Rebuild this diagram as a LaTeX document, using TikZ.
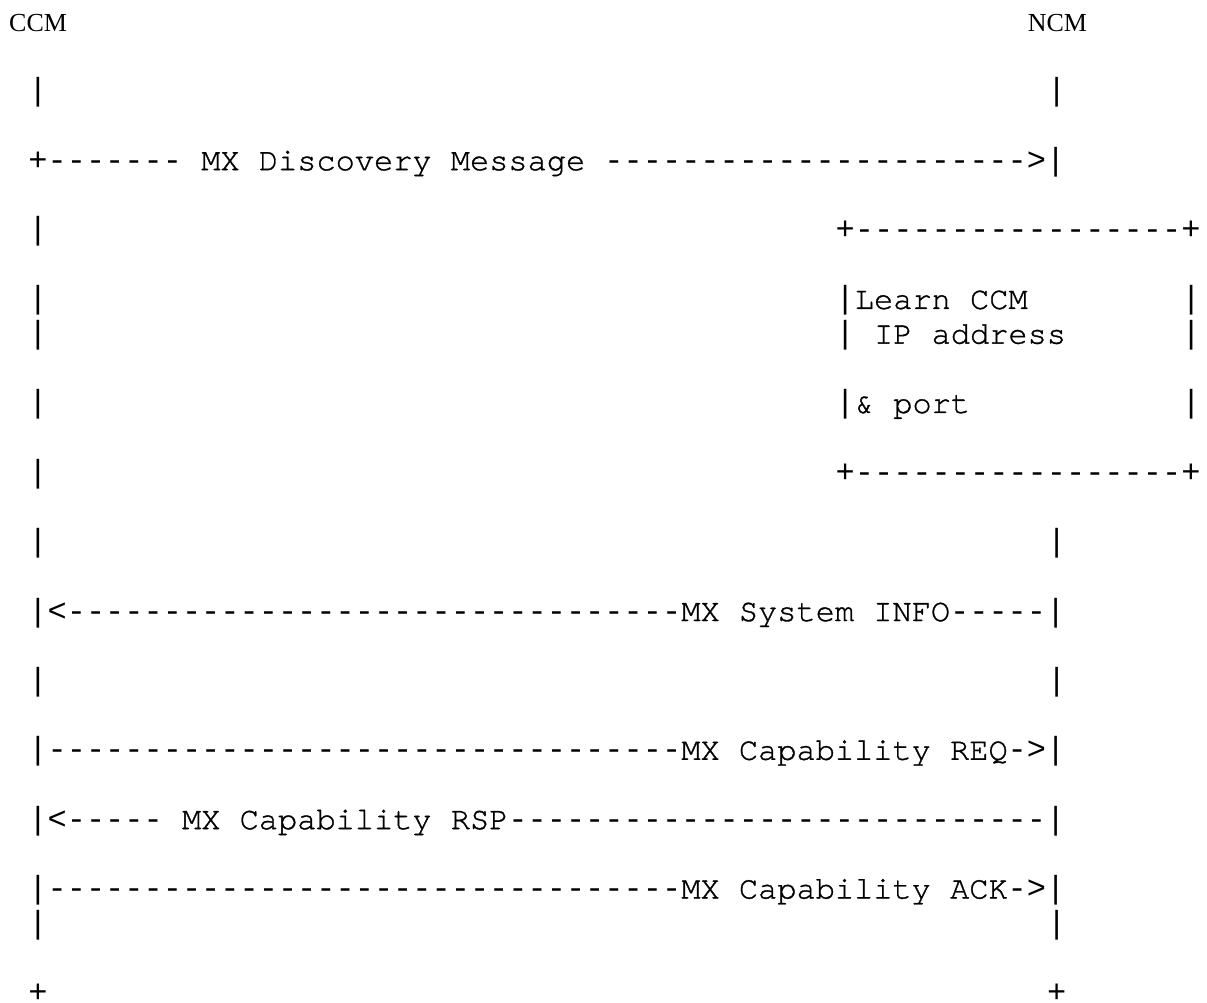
\documentclass[tikz,border=0pt]{standalone}
\usepackage{fontspec}
\setmainfont{Liberation Serif}
\setmonofont{Liberation Mono}
\newfontfamily\msgfont{TeX Gyre Cursor}[FakeBold=1]
\newcommand{\msg}[1]{{\msgfont #1}}

\tikzset{
    ascii/.style={anchor=base west, inner sep=0pt, outer sep=0pt, font=\fontsize{32}{34}\selectfont\ttfamily},
    party/.style={anchor=base west, inner sep=0pt, outer sep=0pt, font=\fontsize{26}{28}\selectfont\rmfamily}
}

\begin{document}
\begin{tikzpicture}
    \useasboundingbox (0,0) rectangle (1207pt,-1003pt);
    \begin{scope}[shift={(9.2pt,-31.5pt)}, x=19.22pt, y=-34.68pt]
    \node[party] (ccm) at (0,0) {CCM};
    \node[party] (ncm) at (53,0) {NCM};
    \node[ascii] (ccm2) at (1,2) {|};
    \node[ascii] (ncm2) at (54,2) {|};
    \node[ascii] (disc) at (1,4) {+------- \msg{MX Discovery Message} ---------------------->|};
    \node[ascii] (ccm6) at (1,6) {|};
    \node[ascii] (boxtop) at (43,6) {+-----------------+};
    \node[ascii] (ccm8) at (1,8) {|};
    \node[ascii] (learn) at (43,8) {|\msg{Learn CCM}};
    \node[ascii] (boxr8) at (61,8) {|};
    \node[ascii] (ccm9) at (1,9) {|};
    \node[ascii] (ipaddr) at (43,9) {| \msg{IP address}};
    \node[ascii] (boxr9) at (61,9) {|};
    \node[ascii] (ccm11) at (1,11) {|};
    \node[ascii] (port) at (43,11) {|\msg{\& port}};
    \node[ascii] (boxr11) at (61,11) {|};
    \node[ascii] (ccm13) at (1,13) {|};
    \node[ascii] (boxbot) at (43,13) {+-----------------+};
    \node[ascii] (ccm15) at (1,15) {|};
    \node[ascii] (ncm15) at (54,15) {|};
    \node[ascii] (sysinfo) at (1,17) {|<--------------------------------\msg{MX System INFO}-----|};
    \node[ascii] (ccm19) at (1,19) {|};
    \node[ascii] (ncm19) at (54,19) {|};
    \node[ascii] (capreq) at (1,21) {|---------------------------------\msg{MX Capability REQ}->|};
    \node[ascii] (caprsp) at (1,23) {|<----- \msg{MX Capability RSP}----------------------------|};
    \node[ascii] (capack) at (1,25) {|---------------------------------\msg{MX Capability ACK}->|};
    \node[ascii] (ccm26) at (1,26) {|};
    \node[ascii] (ncm26) at (54,26) {|};
    \node[ascii] (ccmend) at (1,28) {+};
    \node[ascii] (ncmend) at (54,28) {+};
    \end{scope}
\end{tikzpicture}
\end{document}
